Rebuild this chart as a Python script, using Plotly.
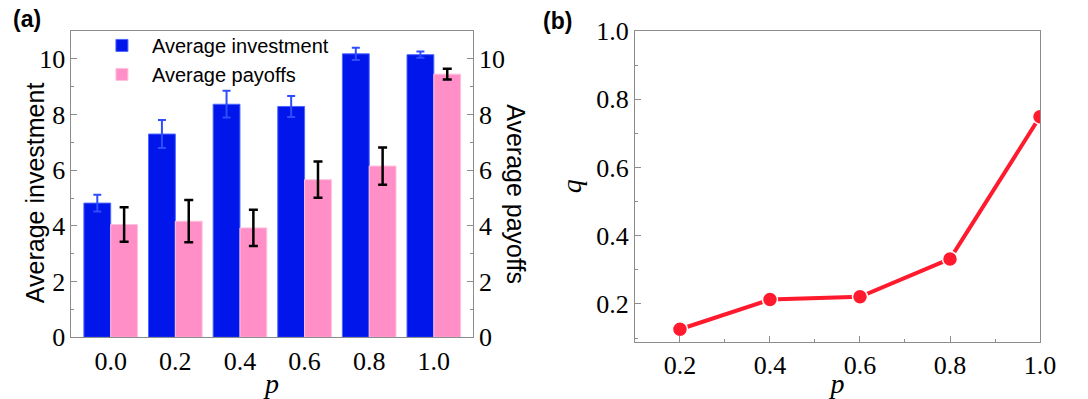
import plotly.graph_objects as go

# panel (a)
p_labels = ["0.0", "0.2", "0.4", "0.6", "0.8", "1.0"]
investment = [4.82, 7.30, 8.37, 8.29, 10.18, 10.15]
investment_err = [0.30, 0.50, 0.48, 0.38, 0.22, 0.11]
payoffs = [4.05, 4.17, 3.93, 5.66, 6.15, 9.45]
payoffs_err = [0.62, 0.76, 0.65, 0.65, 0.67, 0.19]

# panel (b)
p_values = [0.2, 0.4, 0.6, 0.8, 1.0]
q_values = [0.126, 0.213, 0.221, 0.332, 0.749]

BLUE = "#0016ea"
PINK = "#ff8fc6"
RED = "#ff1a2e"
AXIS = "#8c8c8c"
SERIF = "Liberation Serif"
SANS = "Liberation Sans"

fig = go.Figure()

fig.add_trace(go.Bar(
    x=p_labels, y=investment, name="Average investment",
    width=0.415, offset=-0.415,
    marker=dict(color=BLUE, line=dict(color="#4d66ff", width=1)),
    error_y=dict(type="data", array=investment_err, color="#2f4dff", thickness=2, width=4),
    xaxis="x", yaxis="y",
))
fig.add_trace(go.Bar(
    x=p_labels, y=payoffs, name="Average payoffs",
    width=0.415, offset=0,
    marker=dict(color=PINK, line=dict(color="#ffc2de", width=1)),
    error_y=dict(type="data", array=payoffs_err, color="black", thickness=2.5, width=4.5),
    xaxis="x", yaxis="y2",
))

fig.add_trace(go.Scatter(
    x=p_values, y=q_values, mode="lines+markers", showlegend=False,
    line=dict(color=RED, width=4),
    marker=dict(color=RED, size=15, line=dict(color="white", width=1.5)),
    xaxis="x2", yaxis="y3",
))

tick_font = dict(family=SERIF, size=26, color="black")
title_font = dict(family=SERIF, size=28, color="black")
common = dict(showgrid=False, zeroline=False, showline=True, linecolor=AXIS, linewidth=1,
              tickcolor=AXIS, tickfont=tick_font, automargin=False)
minor = dict(ticks="inside", ticklen=3, tickcolor=AXIS)

fig.update_layout(
    width=1088, height=399,
    margin=dict(l=0, r=0, t=0, b=0),
    paper_bgcolor="white", plot_bgcolor="white",
    font=dict(color="black"),
    showlegend=True,
    legend=dict(x=0.0845, y=0.935, xanchor="left", yanchor="top", itemwidth=50,
                font=dict(family=SANS, size=20, color="black"),
                bgcolor="rgba(0,0,0,0)"),
    xaxis=dict(domain=[0.0657, 0.4345], anchor="y", type="category", range=[-0.607, 5.602],
               mirror=True, ticks="",
               title=dict(text="<i>p</i>", font=title_font, standoff=2),
               **common),
    yaxis=dict(domain=[0.1546, 0.9223], anchor="x", range=[0, 11],
               tickvals=[0, 2, 4, 6, 8, 10], ticks="inside", ticklen=6,
               minor=dict(dtick=1, **minor), **common),
    yaxis2=dict(overlaying="y", anchor="x", side="right", range=[0, 11],
                tickvals=[0, 2, 4, 6, 8, 10], ticks="inside", ticklen=6,
                minor=dict(dtick=1, **minor), **common),
    xaxis2=dict(domain=[0.5836, 0.9559], anchor="y3", range=[0.1, 1.0],
                tickvals=p_values, tickformat=".1f", mirror=True,
                ticks="inside", ticklen=6,
                minor=dict(dtick=0.1, tick0=0.1, **minor),
                title=dict(text="<i>p</i>", font=title_font, standoff=2),
                **common),
    yaxis3=dict(domain=[0.1436, 0.9223], anchor="x2", range=[0.0895, 1.0],
                tickvals=[0.2, 0.4, 0.6, 0.8, 1.0], tickformat=".1f", mirror=True,
                ticks="inside", ticklen=6,
                minor=dict(dtick=0.1, tick0=0.1, **minor),
                title=dict(text="<i>q</i>", font=title_font, standoff=6),
                **common),
)

fig.add_annotation(text="Average investment", textangle=-90, x=0.0175, y=0.516,
                   xref="paper", yref="paper", showarrow=False,
                   font=dict(family=SANS, size=25, color="black"))
fig.add_annotation(text="Average payoffs", textangle=90, x=0.474, y=0.514,
                   xref="paper", yref="paper", showarrow=False,
                   font=dict(family=SANS, size=25, color="black"))
fig.add_annotation(text="<b>(a)</b>", x=0.01, y=0.952, xanchor="left", yanchor="middle",
                   xref="paper", yref="paper", showarrow=False,
                   font=dict(family=SANS, size=23, color="black"))
fig.add_annotation(text="<b>(b)</b>", x=0.497, y=0.947, xanchor="left", yanchor="middle",
                   xref="paper", yref="paper", showarrow=False,
                   font=dict(family=SANS, size=23, color="black"))

fig.write_html("out.html", config={"displayModeBar": False},
               post_script="document.body.style.margin='0';")
